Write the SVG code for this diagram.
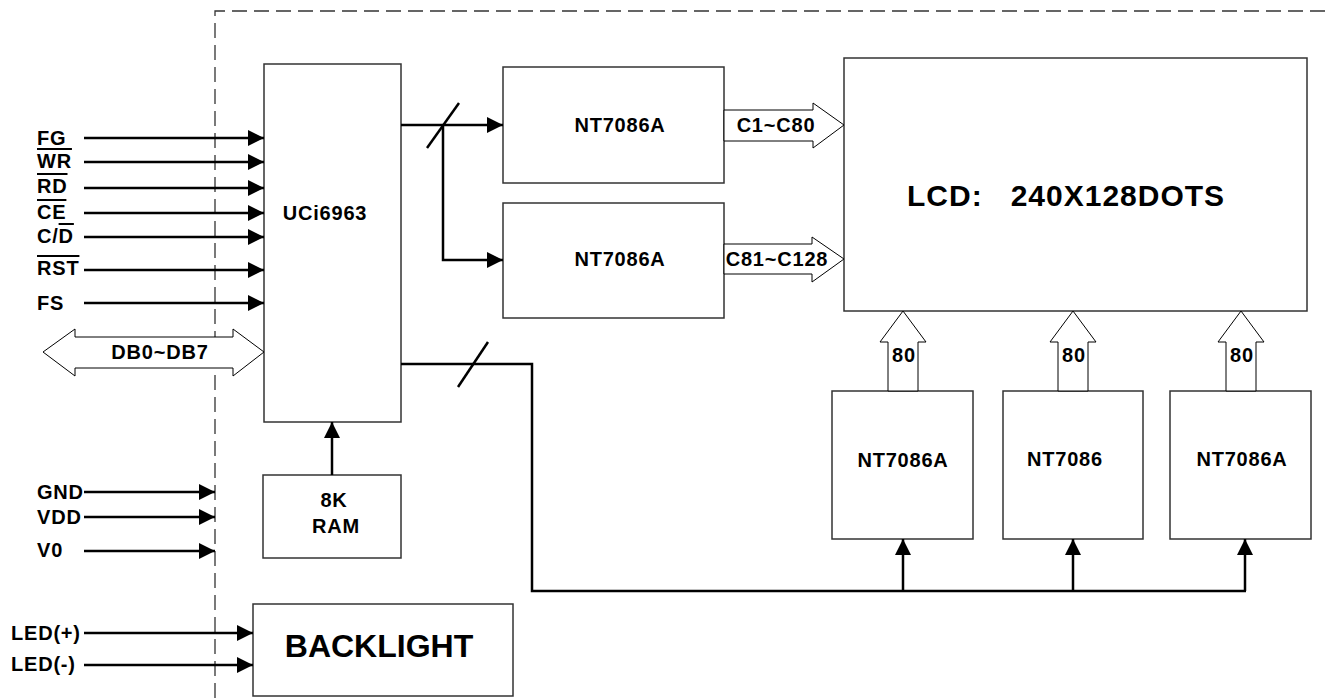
<svg xmlns="http://www.w3.org/2000/svg" width="1332" height="698" viewBox="0 0 1332 698">
<style>
text{font-family:"Liberation Sans",Arial,sans-serif;font-weight:bold;fill:#000}
.s{font-size:20px;letter-spacing:0.8px}
.box{fill:#fff;stroke:#333;stroke-width:1.5}
.w{fill:none;stroke:#000;stroke-width:2.5}
.ho{fill:#fff;stroke:#000;stroke-width:1}
.dash{fill:none;stroke:#333;stroke-width:1.3;stroke-dasharray:15 7}
.ol{text-decoration:overline}
</style>
<defs>
<marker id="ah" markerUnits="userSpaceOnUse" markerWidth="16" markerHeight="16" refX="16" refY="8" orient="auto">
<path d="M0,0 L16,8 L0,16 z" fill="#000"/>
</marker>
</defs>
<rect width="1332" height="698" fill="#fff"/>
<g id="boundary">
<path class="dash" d="M215,698 L215,11 L1332,11"/>
</g>
<g id="uci6963"><rect class="box" x="264" y="64" width="137" height="358"/><text class="s" x="325" y="220" text-anchor="middle">UCi6963</text></g>
<g id="nt7086a-1"><rect class="box" x="503" y="67" width="221" height="116"/><text class="s" x="620" y="132" text-anchor="middle">NT7086A</text></g>
<g id="nt7086a-2"><rect class="box" x="503" y="203" width="221" height="115"/><text class="s" x="620" y="266" text-anchor="middle">NT7086A</text></g>
<g id="lcd"><rect class="box" x="844" y="58" width="463" height="253"/><text x="907" y="206" font-size="30" letter-spacing="1" xml:space="preserve">LCD:   240X128DOTS</text></g>
<g id="nt7086a-3"><rect class="box" x="832" y="391" width="141" height="148"/><text class="s" x="903" y="467" text-anchor="middle">NT7086A</text></g>
<g id="nt7086"><rect class="box" x="1003" y="391" width="140" height="148"/><text class="s" x="1065" y="466" text-anchor="middle">NT7086</text></g>
<g id="nt7086a-4"><rect class="box" x="1170" y="391" width="141" height="148"/><text class="s" x="1242" y="466" text-anchor="middle">NT7086A</text></g>
<g id="ram"><rect class="box" x="263" y="475" width="138" height="83"/><text class="s" x="334" y="507" text-anchor="middle">8K</text><text class="s" x="336" y="533" text-anchor="middle">RAM</text></g>
<g id="backlight"><rect class="box" x="253" y="604" width="260" height="92"/><text x="379" y="657" font-size="32" text-anchor="middle">BACKLIGHT</text></g>
<g id="labels">
<text class="s" x="37" y="145">FG</text>
<text class="s" x="37" y="168"><tspan class="ol">WR</tspan></text>
<text class="s" x="37" y="193"><tspan class="ol">RD</tspan></text>
<text class="s" x="37" y="219"><tspan class="ol">CE</tspan></text>
<text class="s" x="37" y="243">C/<tspan class="ol">D</tspan></text>
<text class="s" x="37" y="275"><tspan class="ol">RST</tspan></text>
<text class="s" x="37" y="310">FS</text>
<text class="s" x="37" y="499">GND</text>
<text class="s" x="37" y="524">VDD</text>
<text class="s" x="37" y="557">V0</text>
<text class="s" x="11" y="640">LED(+)</text>
<text class="s" x="11" y="671">LED(-)</text>
</g>
<g id="connectors">
<path class="w" marker-end="url(#ah)" d="M84,138 H264"/>
<path class="w" marker-end="url(#ah)" d="M84,162 H264"/>
<path class="w" marker-end="url(#ah)" d="M84,188 H264"/>
<path class="w" marker-end="url(#ah)" d="M84,213 H264"/>
<path class="w" marker-end="url(#ah)" d="M84,237 H264"/>
<path class="w" marker-end="url(#ah)" d="M84,270 H264"/>
<path class="w" marker-end="url(#ah)" d="M84,303 H264"/>
<path class="w" marker-end="url(#ah)" d="M84,492 H215"/>
<path class="w" marker-end="url(#ah)" d="M84,517 H215"/>
<path class="w" marker-end="url(#ah)" d="M84,551 H215"/>
<path class="w" marker-end="url(#ah)" d="M84,633 H253"/>
<path class="w" marker-end="url(#ah)" d="M84,665 H253"/>
<path class="w" marker-end="url(#ah)" d="M332,475 V422"/>
<path class="w" marker-end="url(#ah)" d="M401,125 H503"/>
<path class="w" marker-end="url(#ah)" d="M443,125 V260 H503"/>
<path class="w" d="M427,148 L459,103"/>
<path class="w" d="M401,364 H532 V591 H1246"/>
<path class="w" d="M458,387 L488,342"/>
<path class="w" marker-end="url(#ah)" d="M903,591 V539"/>
<path class="w" marker-end="url(#ah)" d="M1073,591 V539"/>
<path class="w" marker-end="url(#ah)" d="M1245,591 V539"/>
<polygon class="ho" points="43,352 75,329 75,337 233,337 233,329 264,352 233,376 233,368 75,368 75,376"/>
<text class="s" x="160" y="359" text-anchor="middle">DB0~DB7</text>
<polygon class="ho" points="724,110 813,110 813,103 844,125 813,148 813,141 724,141"/>
<text class="s" x="776" y="132" text-anchor="middle">C1~C80</text>
<polygon class="ho" points="724,244 812,244 812,237 844,259 812,282 812,274 724,274"/>
<text class="s" x="777" y="266" text-anchor="middle">C81~C128</text>
<polygon class="ho" points="888,391 888,342 880,342 903,311 926,342 918,342 918,391"/>
<text class="s" x="904" y="362" text-anchor="middle">80</text>
<polygon class="ho" points="1058,391 1058,342 1050,342 1073,311 1096,342 1088,342 1088,391"/>
<text class="s" x="1074" y="362" text-anchor="middle">80</text>
<polygon class="ho" points="1226,391 1226,342 1218,342 1241,311 1264,342 1256,342 1256,391"/>
<text class="s" x="1242" y="362" text-anchor="middle">80</text>
</g>
</svg>
